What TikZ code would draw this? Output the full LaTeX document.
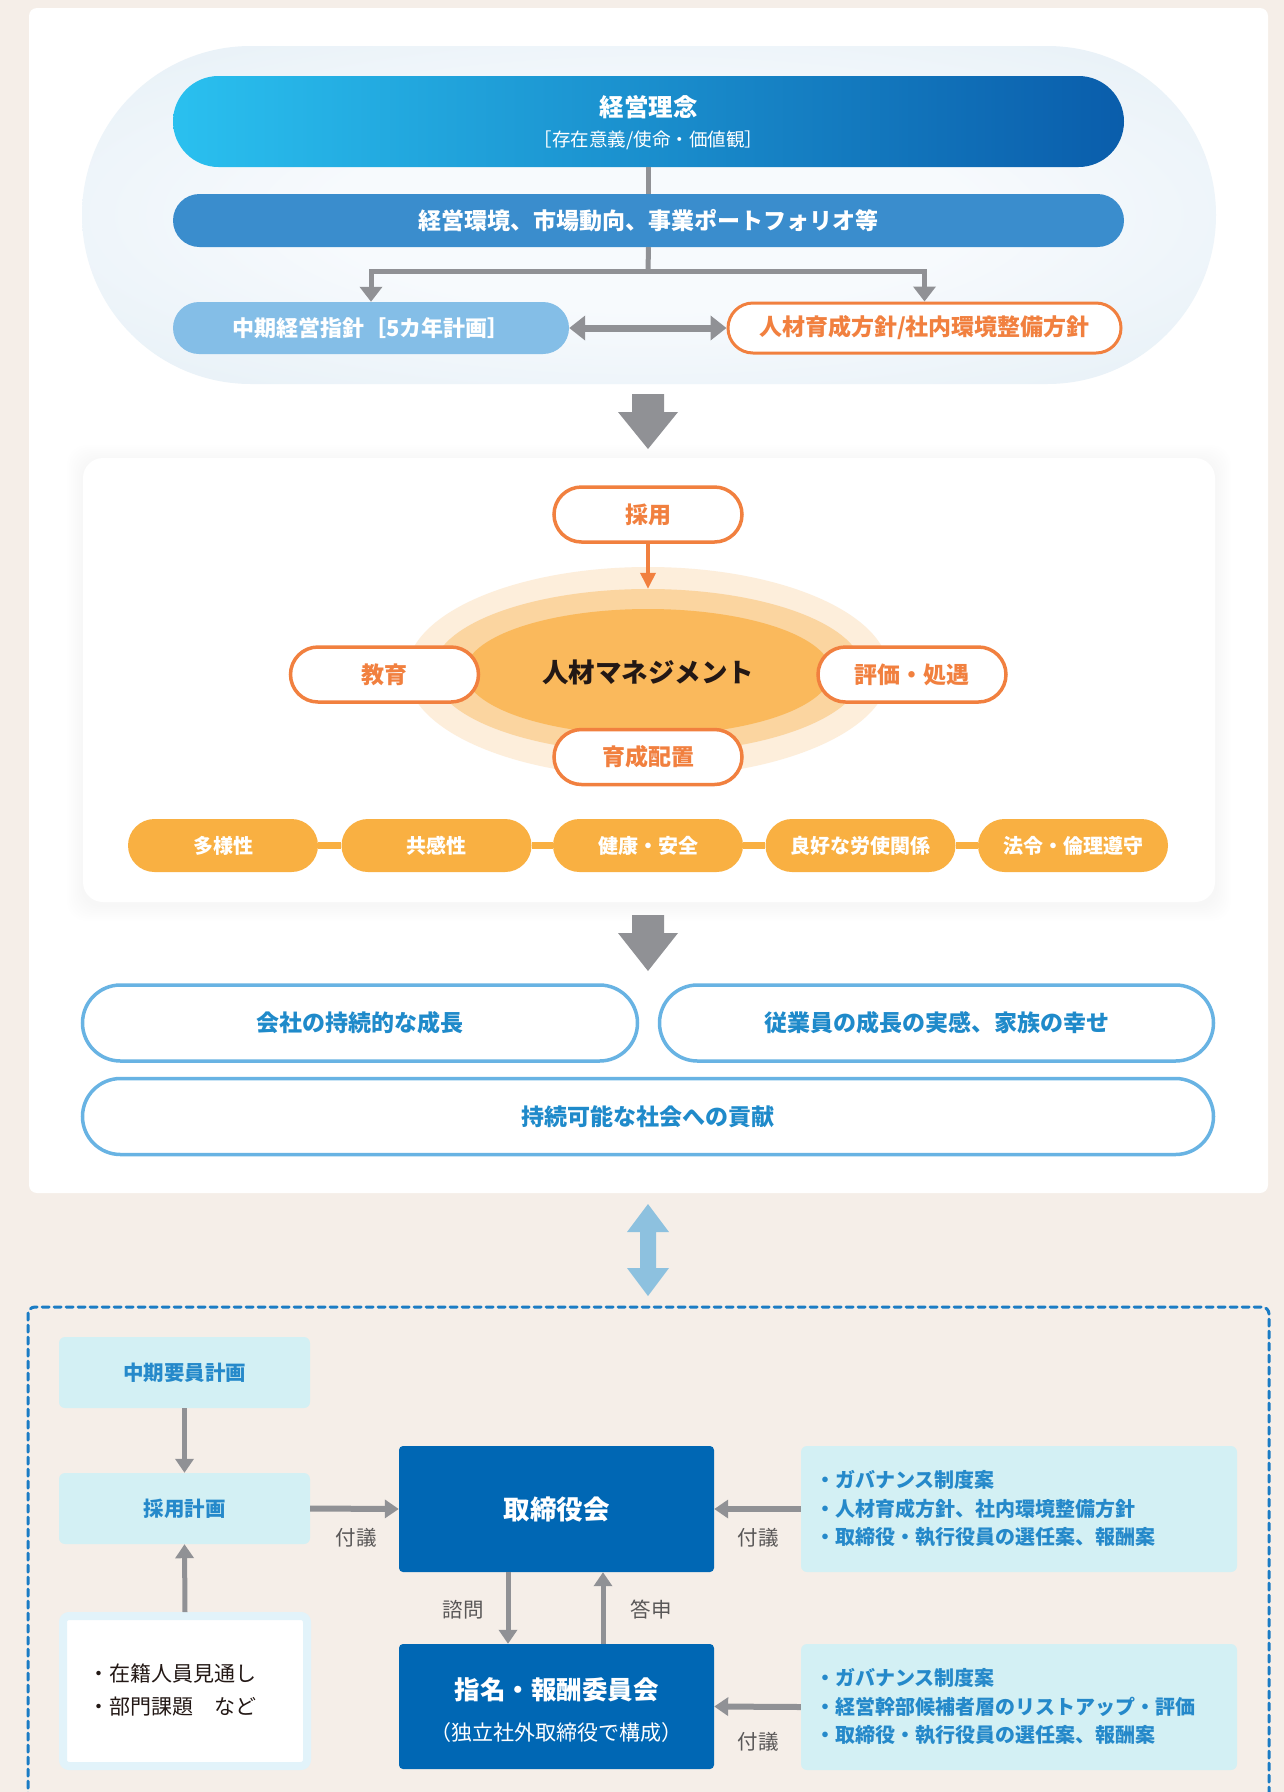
\documentclass[tikz,border=0pt]{standalone}
\usepackage{fontspec}
\setmainfont{Noto Sans CJK JP}
\usetikzlibrary{arrows.meta,shapes.misc,shapes.geometric}

\definecolor{pageBeige}{HTML}{F5EEE8}
\definecolor{capIn}{HTML}{F7FAFD}
\definecolor{capOut}{HTML}{DCEAF3}
\definecolor{skyStart}{HTML}{2AC0EF}
\definecolor{skyEnd}{HTML}{0A5DAB}
\definecolor{envBlue}{HTML}{3A8DCD}
\definecolor{planBlue}{HTML}{84BEE7}
\definecolor{accOrange}{HTML}{F1803F}
\definecolor{haloLight}{HTML}{FDEEDB}
\definecolor{haloMidC}{HTML}{FBD5A0}
\definecolor{haloCoreC}{HTML}{FAB95C}
\definecolor{pillOrange}{HTML}{F9B042}
\definecolor{goalLine}{HTML}{68B3E3}
\definecolor{goalText}{HTML}{1F8ACA}
\definecolor{arrowGray}{HTML}{909195}
\definecolor{linkBlue}{HTML}{8DC1DF}
\definecolor{dashBlue}{HTML}{1B7CC4}
\definecolor{paleCyan}{HTML}{D3F0F4}
\definecolor{cyanText}{HTML}{2589CA}
\definecolor{deepBlue}{HTML}{0067B4}
\definecolor{rimBlue}{HTML}{E2F3FA}
\definecolor{inkDark}{HTML}{231815}
\definecolor{labelGray}{HTML}{595757}

\pgfdeclareradialshading{capsuleglow}{\pgfpoint{0bp}{0bp}}{color(0bp)=(capIn); color(14bp)=(capIn); color(48bp)=(capOut); color(100bp)=(capOut)}

\newcommand{\fsz}[1]{\fontsize{#1pt}{#1pt}\selectfont}

\begin{document}
\begin{tikzpicture}[x=1pt,y=-1pt,
  gline/.style={draw=arrowGray, line width=5pt},
  gtip/.style={-{Triangle[width=22pt,length=15pt]}},
  btip/.style={-{Triangle[width=18pt,length=14pt]}},
  orangebox/.style={rounded rectangle, draw=accOrange, line width=3.5pt, fill=white,
    text=accOrange, minimum width=188pt, minimum height=55pt, inner sep=0pt,
    font=\fsz{23}\bfseries},
  pillbox/.style={rounded rectangle, fill=pillOrange, text=white, minimum width=190pt,
    minimum height=53pt, inner sep=0pt, font=\fsz{20}\bfseries},
  goalbox/.style={rounded rectangle, draw=goalLine, line width=3.5pt, fill=white,
    text=goalText, minimum height=76pt, inner sep=0pt, font=\fsz{23}\bfseries},
  cyanbox/.style={rectangle, rounded corners=6pt, fill=paleCyan, text=cyanText,
    minimum width=251pt, minimum height=71pt, inner sep=0pt, font=\fsz{20.5}\bfseries},
  navybox/.style={rectangle, rounded corners=4pt, fill=deepBlue, text=white,
    minimum width=315pt, minimum height=126pt, inner sep=0pt},
  notebox/.style={rectangle, rounded corners=6pt, fill=paleCyan,
    minimum width=436pt, minimum height=126pt, inner sep=0pt},
  notetext/.style={anchor=west, align=left, text=cyanText, inner sep=0pt,
    font=\fontsize{20pt}{28.5pt}\selectfont\bfseries},
  smalllabel/.style={text=labelGray, inner sep=0pt, font=\fsz{20.5}}
]
\useasboundingbox (0,0) rectangle (1284,1792);
\fill[pageBeige] (0,0) rectangle (1284,1792);
\fill[white, rounded corners=8pt] (29,8) rectangle (1268,1193);

% ---------- policy capsule ----------
\shade[shading=capsuleglow, rounded corners=169pt] (82,46) rectangle (1216,384);

\node[rounded rectangle, left color=skyStart, right color=skyEnd, minimum width=951pt,
  minimum height=91pt, inner sep=0pt] (philo) at (648.5,121.5) {};
\node[text=white, inner sep=0pt, font=\fsz{24.5}\bfseries] (philoTitle) at (648.5,107) {経営理念};
\node[text=white, inner sep=0pt, font=\fsz{18.5}] (philoSub) at (648.5,140) {［存在意義/使命・価値観］};

\node[rounded rectangle, fill=envBlue, text=white, minimum width=951pt, minimum height=53pt,
  inner sep=0pt, font=\fsz{23}\bfseries] (env) at (648.5,220.5) {経営環境、市場動向、事業ポートフォリオ等};

\node[rounded rectangle, fill=planBlue, text=white, minimum width=396pt, minimum height=52pt,
  inner sep=0pt, font=\fsz{22}\bfseries] (plan) at (371,328) {中期経営指針［5カ年計画］};
\node[rounded rectangle, draw=accOrange, line width=3pt, fill=white, text=accOrange,
  minimum width=393pt, minimum height=50pt, inner sep=0pt, font=\fsz{23}\bfseries]
  (policy) at (924.5,328) {人材育成方針/社内環境整備方針};

\coordinate (split) at (648,271);
\draw[gline] (philo.south) -- (env.north);
\draw[gline] (env.south) -- (split);
\draw[gline, gtip] (split) -| (plan.north);
\draw[gline, gtip] (split) -| (policy.north);
\draw[draw=arrowGray, line width=7pt,
  {Triangle[width=24pt,length=16pt]}-{Triangle[width=24pt,length=16pt]}]
  (plan.east) -- (policy.west);

% ---------- block arrow down ----------
\fill[arrowGray] (632,394) -- (664,394) -- (664,412) -- (678,412) -- (648,449)
  -- (618,412) -- (632,412) -- cycle;

% ---------- management panel with soft shadow ----------
\foreach \s in {2,4,...,16}
  \fill[black, opacity=0.005, rounded corners=20pt]
    ({83-\s},{458-\s+3}) rectangle ({1215+\s},{902+\s+3});
\fill[white, rounded corners=20pt] (83,458) rectangle (1215,902);

\node[ellipse, fill=haloLight, minimum width=482pt, minimum height=210pt, inner sep=0pt]
  (haloOuter) at (648,672) {};
\node[ellipse, fill=haloMidC, minimum width=430pt, minimum height=164pt, inner sep=0pt]
  (haloMid) at (648,671) {};
\node[ellipse, fill=haloCoreC, minimum width=366pt, minimum height=126pt, inner sep=0pt,
  text=inkDark, font=\fsz{26.5}\bfseries] (core) at (648,672) {人材マネジメント};

\node[orangebox] (saiyo) at (648,514.5) {採用};
\node[orangebox] (kyoiku) at (384.5,674.5) {教育};
\node[orangebox] (hyoka) at (912,674.5) {評価・処遇};
\node[orangebox] (ikusei) at (648,757) {育成配置};
\draw[draw=accOrange, line width=3.5pt, -{Triangle[width=15pt,length=16pt]}]
  (saiyo.south) -- (haloMid.north);

\node[pillbox] (v1) at (223,845.5) {多様性};
\node[pillbox] (v2) at (436.5,845.5) {共感性};
\node[pillbox] (v3) at (648,845.5) {健康・安全};
\node[pillbox] (v4) at (860.5,845.5) {良好な労使関係};
\node[pillbox] (v5) at (1073,845.5) {法令・倫理遵守};
\foreach \a/\b in {v1/v2,v2/v3,v3/v4,v4/v5}
  \draw[draw=pillOrange, line width=7pt] (\a.east) -- (\b.west);

% ---------- block arrow down ----------
\fill[arrowGray] (632,915) -- (664,915) -- (664,933) -- (678,933) -- (648,971)
  -- (618,933) -- (632,933) -- cycle;

% ---------- outcomes ----------
\node[goalbox, minimum width=555pt] (goalCo) at (360,1023) {会社の持続的な成長};
\node[goalbox, minimum width=554pt] (goalStaff) at (936.5,1023) {従業員の成長の実感、家族の幸せ};
\node[goalbox, minimum width=1131pt] (goalSoc) at (648,1116.5) {持続可能な社会への貢献};

% ---------- link arrow ----------
\fill[linkBlue] (648,1204) -- (669,1232) -- (656,1232) -- (656,1268) -- (669,1268)
  -- (648,1296) -- (627,1268) -- (640,1268) -- (640,1232) -- (627,1232) -- cycle;

% ---------- governance frame ----------
\draw[draw=dashBlue, line width=3pt, dash pattern=on 7pt off 5pt, line cap=round,
  rounded corners=7pt] (28,1800) -- (28,1307) -- (1269,1307) -- (1269,1800);

\node[cyanbox] (headcount) at (184.5,1372.5) {中期要員計画};
\node[cyanbox] (hiring) at (184.5,1508.5) {採用計画};
\node[rectangle, rounded corners=6pt, draw=rimBlue, line width=8pt, fill=white,
  minimum width=244pt, minimum height=150pt, inner sep=0pt] (outlook) at (185,1691) {};
\node[anchor=west, align=left, text=inkDark, inner sep=0pt,
  font=\fontsize{21pt}{33pt}\selectfont] (outlookText) at (88,1689.5)
  {・在籍人員見通し\\・部門課題　など};

\node[navybox, font=\fsz{26.5}\bfseries] (board) at (556.5,1509) {取締役会};
\node[navybox, minimum height=125pt] (committee) at (556.5,1706.5) {};
\node[text=white, inner sep=0pt, font=\fsz{25.5}\bfseries] (committeeTitle) at (556.5,1690) {指名・報酬委員会};
\node[text=white, inner sep=0pt, font=\fsz{21}] (committeeSub) at (556.5,1732) {（独立社外取締役で構成）};

\node[notebox] (agendaA) at (1019,1509) {};
\node[notetext] (agendaAText) at (815,1509)
  {・ガバナンス制度案\\・人材育成方針、社内環境整備方針\\・取締役・執行役員の選任案、報酬案};
\node[notebox] (agendaB) at (1019,1707) {};
\node[notetext] (agendaBText) at (815,1707)
  {・ガバナンス制度案\\・経営幹部候補者層のリストアップ・評価\\・取締役・執行役員の選任案、報酬案};

\draw[draw=arrowGray, line width=5pt, btip] (headcount.south) -- (hiring.north);
\draw[draw=arrowGray, line width=5pt, btip] (outlook.north) -- (hiring.south);
\draw[draw=arrowGray, line width=6pt, btip] (hiring.east) -- (board.west);
\draw[draw=arrowGray, line width=6pt, btip] (agendaA.west) -- (board.east);
\draw[draw=arrowGray, line width=6pt, btip] (agendaB.west) -- (committee.east);
\draw[draw=arrowGray, line width=5pt, btip] ([xshift=-48.5pt]board.south) -- ([xshift=-48.5pt]committee.north);
\draw[draw=arrowGray, line width=5pt, btip] ([xshift=46.5pt]committee.north) -- ([xshift=46.5pt]board.south);

\node[smalllabel] (lblHiring) at (356,1538) {付議};
\node[smalllabel] (lblAgendaA) at (758,1538) {付議};
\node[smalllabel] (lblAgendaB) at (758,1742) {付議};
\node[smalllabel] (lblConsult) at (463,1610) {諮問};
\node[smalllabel] (lblReport) at (651,1610) {答申};
\end{tikzpicture}
\end{document}
